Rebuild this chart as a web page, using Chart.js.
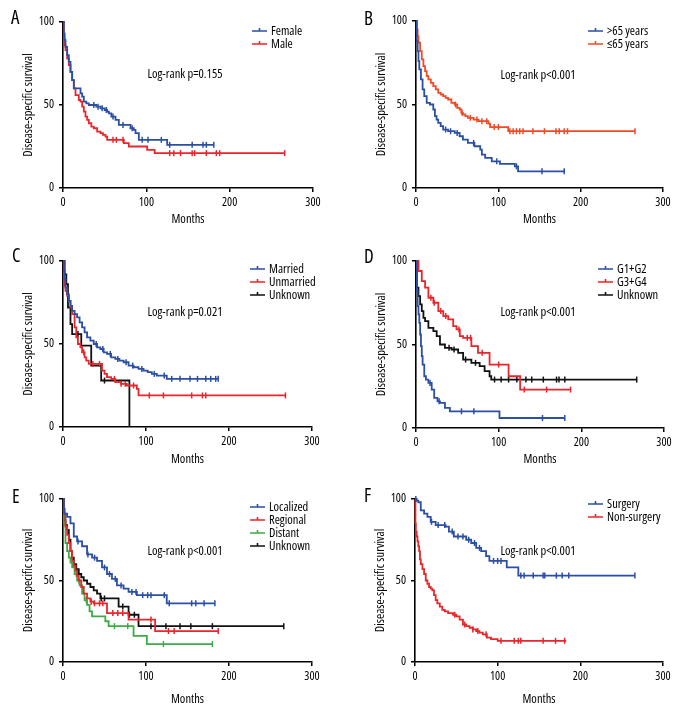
<!DOCTYPE html>
<html>
<head>
<meta charset="utf-8">
<script src="https://cdn.jsdelivr.net/npm/chart.js@4"></script>
<style>
  body { margin: 0; background: #fff; }
  #fig { position: relative; width: 696px; height: 720px; }
  #fig canvas { position: absolute; }
</style>
</head>
<body>
<div id="fig">
  <canvas id="panelA" width="348" height="230" style="left:0;top:0"></canvas>
  <canvas id="panelB" width="348" height="230" style="left:348px;top:0"></canvas>
  <canvas id="panelC" width="348" height="240" style="left:0;top:230px"></canvas>
  <canvas id="panelD" width="348" height="240" style="left:348px;top:230px"></canvas>
  <canvas id="panelE" width="348" height="250" style="left:0;top:460px"></canvas>
  <canvas id="panelF" width="348" height="250" style="left:348px;top:460px"></canvas>
</div>
<script>
// axis ticks
const monthTicks = [0, 100, 200, 300];
const survTicks = [0, 50, 100];

// A: sex
const aFemaleMonths = [0, 1, 2, 3, 5, 7, 9, 11, 13, 21, 23, 25, 28, 31, 40, 45, 50, 53, 55, 58, 63, 67, 81, 85, 87, 91, 125, 181];
const aFemaleSurv   = [100, 93, 89, 85, 80, 76, 70, 65, 60, 57, 55, 52, 51, 50, 49, 48, 47, 46, 45, 43, 41, 38, 36, 35, 33, 29, 26, 26];
const aFemaleCens   = [37, 42, 47, 52, 60, 72, 83, 95, 102, 118, 128, 155, 168, 172, 181];
const aMaleMonths = [0, 1, 2, 3, 5, 7, 9, 11, 13, 15, 19, 21, 23, 25, 27, 29, 31, 34, 37, 41, 45, 48, 51, 53, 73, 79, 101, 110, 266];
const aMaleSurv   = [100, 90, 86, 83, 78, 74, 70, 65, 60, 56, 53, 52, 49, 46, 43, 41, 39, 37, 36, 34, 33, 32, 31, 29, 27, 25, 23, 21, 21];
const aMaleCens   = [60, 64, 72, 128, 133, 141, 155, 158, 172, 184, 188, 266];

// B: age
const bOldMonths = [0, 1, 2, 3, 4, 6, 8, 10, 13, 17, 21, 23, 25, 27, 30, 33, 39, 47, 53, 57, 63, 71, 78, 80, 84, 92, 102, 120, 124, 181];
const bOldSurv   = [100, 88, 82, 76, 71, 65, 59, 55, 51, 50, 47, 43, 41, 39, 37, 35, 34, 33, 31, 29, 27, 25, 23, 20, 18, 16, 14.5, 13, 10, 10];
const bOldCens   = [36, 42, 50, 70, 98, 122, 153, 180];
const bYoungMonths = [0, 1, 2, 3, 5, 7, 9, 11, 13, 15, 18, 21, 24, 27, 30, 33, 36, 39, 43, 47, 50, 53, 55, 57, 60, 63, 70, 76, 88, 90, 112, 266];
const bYoungSurv   = [100, 95, 91, 87, 82, 77, 73, 70, 67, 65, 63, 61, 59, 57, 56, 55, 54, 53, 51, 50, 48, 47, 45, 44, 43, 42, 41, 40, 38.5, 36.5, 34, 34];
const bYoungCens   = [48, 56, 66, 74, 80, 86, 95, 100, 114, 118, 122, 126, 130, 142, 156, 170, 174, 180, 184, 266];

// C: marital status
const cMarriedMonths = [0, 1, 2, 3, 5, 7, 9, 11, 14, 17, 20, 23, 26, 29, 33, 37, 41, 45, 49, 53, 58, 63, 68, 73, 79, 85, 91, 97, 102, 107, 113, 125, 187];
const cMarriedSurv   = [100, 94, 89, 84, 80, 76, 73, 70, 68, 66, 63, 60, 57, 54, 52, 50, 48, 47, 45, 44, 42, 41, 40, 39, 37, 36, 35, 34, 33, 32, 31, 29, 29];
const cMarriedCens   = [40, 48, 57, 66, 76, 84, 95, 110, 122, 131, 141, 153, 162, 172, 178, 184, 187];
const cUnmarriedMonths = [0, 1, 2, 3, 5, 7, 9, 11, 14, 16, 18, 21, 23, 26, 28, 31, 47, 50, 53, 58, 63, 70, 77, 89, 91, 268];
const cUnmarriedSurv   = [100, 90, 85, 82, 79, 76, 72, 68, 60, 54, 50, 48, 45, 42, 40, 38, 34, 32, 30, 29, 27, 26, 25, 23, 19, 19];
const cUnmarriedCens   = [25, 36, 44, 62, 70, 75, 85, 104, 121, 155, 168, 172, 268];
const cUnknownMonths = [0, 2, 4, 6, 9, 11, 22, 34, 46, 80];
const cUnknownSurv   = [100, 92, 86, 72, 62, 56, 49, 37, 28, 0];
const cUnknownCens   = [18, 50];

// D: grade
const dLowMonths = [0, 1, 2, 3, 4, 5, 6, 7, 8, 10, 12, 15, 19, 22, 26, 29, 35, 41, 101, 180];
const dLowSurv   = [100, 82, 73, 68, 63, 56, 49, 43, 38, 31, 29, 27, 23, 18, 16, 15, 12, 10, 6, 6];
const dLowCens   = [17, 28, 55, 70, 153, 180];
const dHighMonths = [0, 3, 7, 11, 15, 21, 27, 33, 39, 45, 49, 53, 57, 67, 75, 89, 112, 126, 187];
const dHighSurv   = [100, 94, 88, 84, 78, 75, 70, 67, 65, 61, 59, 55, 54, 49, 45, 38, 31, 23, 23];
const dHighCens   = [18, 22, 30, 36, 52, 62, 66, 80, 100, 131, 158, 187];
const dUnknownMonths = [0, 1, 3, 5, 7, 9, 11, 15, 21, 25, 29, 35, 43, 51, 57, 67, 77, 83, 89, 91, 267];
const dUnknownSurv   = [100, 84, 79, 74, 70, 66, 64, 60, 58, 55, 50, 48, 47, 45, 41, 39, 37, 34, 31, 29, 29];
const dUnknownCens   = [40, 46, 60, 72, 95, 103, 112, 122, 133, 140, 154, 170, 173, 180, 267];

// E: stage
const eLocalMonths = [0, 1, 2, 5, 9, 13, 17, 23, 29, 35, 41, 47, 53, 59, 65, 73, 79, 89, 125, 183];
const eLocalSurv   = [100, 94, 91, 89, 85, 77, 74, 71, 66, 64, 62, 58, 54, 51, 47, 45, 43, 41, 36, 36];
const eLocalCens   = [18, 30, 38, 50, 56, 63, 70, 83, 88, 96, 102, 106, 122, 128, 155, 160, 170, 183];
const eRegionalMonths = [0, 1, 3, 5, 7, 9, 11, 13, 15, 17, 19, 22, 25, 29, 33, 37, 53, 79, 111, 187];
const eRegionalSurv   = [100, 91, 83, 78, 73, 68, 62, 59, 56, 53, 50, 46, 42, 39, 37, 36, 30, 26, 19, 19];
const eRegionalCens   = [34, 38, 44, 48, 60, 66, 72, 106, 127, 134, 187];
const eDistantMonths = [0, 1, 3, 5, 7, 9, 11, 14, 17, 20, 23, 26, 29, 32, 35, 51, 55, 85, 101, 180];
const eDistantSurv   = [100, 85, 73, 68, 64, 61, 58, 54, 50, 47, 42, 38, 35, 31, 28, 25, 22, 16, 11, 11];
const eDistantCens   = [16, 19, 28, 62, 78, 121, 180];
const eUnknownMonths = [0, 1, 3, 5, 7, 9, 11, 13, 16, 19, 22, 25, 29, 33, 37, 41, 45, 67, 79, 91, 266];
const eUnknownSurv   = [100, 87, 84, 81, 75, 68, 64, 60, 57, 54, 52, 50, 48, 46, 44, 42, 39, 34, 29, 22, 22];
const eUnknownCens   = [46, 50, 72, 80, 86, 106, 124, 141, 154, 180, 266];

// F: surgery
const fSurgeryMonths = [0, 2, 4, 7, 11, 15, 19, 25, 37, 41, 47, 62, 68, 74, 80, 86, 90, 111, 125, 266];
const fSurgerySurv   = [100, 99, 98, 93, 91, 89, 86, 84, 83, 80, 77, 75, 73, 70, 68, 65, 62, 58, 53, 53];
const fSurgeryCens   = [1, 20, 28, 36, 45, 52, 58, 65, 72, 78, 95, 100, 104, 128, 132, 143, 155, 157, 171, 178, 186, 266];
const fNonMonths = [0, 0.5, 1, 2, 3, 4, 5, 6, 7, 9, 11, 13, 15, 17, 19, 21, 23, 25, 27, 30, 33, 36, 40, 46, 50, 54, 58, 62, 66, 70, 74, 78, 82, 87, 92, 100, 183];
const fNonSurv   = [100, 85, 80, 77, 74, 71, 68, 63, 60, 57, 54, 50, 48, 46, 45, 44, 41, 38, 36, 34, 32, 31, 30, 29, 28, 26, 23, 22, 21, 20, 19, 18, 17, 15, 14, 13, 13];
const fNonCens   = [48, 60, 70, 76, 86, 104, 120, 125, 128, 155, 170, 181];

const BLUE = '#2b4fa3', RED = '#e8262b', ORANGE = '#ef4b25', GREEN = '#3dab45', BLACK = '#111';
// Open Sans squeezed with font-stretch looks close to the condensed face of the original
const FAMILY = '"Open Sans", "Roboto Condensed", sans-serif';
const cond = size => 'condensed ' + size + 'px ' + FAMILY;

function survAt(months, surv, m) {
  let v = surv[0];
  for (let i = 0; i < months.length; i++) if (months[i] <= m) v = surv[i];
  return v;
}

function curve(label, color, months, surv, cens) {
  return [
    {
      label, borderColor: color, backgroundColor: color, borderWidth: 1.8,
      data: months.map((m, i) => ({ x: m, y: surv[i] })),
      stepped: 'before', pointRadius: 0, clip: false, km: true
    },
    {
      label: label + ' censored', borderColor: color, backgroundColor: color,
      data: cens.map(m => ({ x: m, y: survAt(months, surv, m) })),
      showLine: false, pointStyle: 'line', rotation: 90, pointRadius: 3,
      pointBorderWidth: 1.5, clip: false
    }
  ];
}

const kmDecor = {
  id: 'kmDecor',
  afterDraw(chart, args, o) {
    const ctx = chart.ctx;
    ctx.save();
    ctx.fillStyle = '#000';
    ctx.textBaseline = 'middle';
    ctx.font = cond(19);
    ctx.textAlign = 'left';
    ctx.fillText(o.letter, o.letterX, o.letterY);
    ctx.font = cond(12.5);
    ctx.textAlign = 'center';
    ctx.fillText(o.pText, o.pX, o.pY);
    ctx.textAlign = 'left';
    chart.data.datasets.filter(d => d.km).forEach((d, i) => {
      const y = o.legY + i * 13;
      ctx.strokeStyle = d.borderColor;
      ctx.lineWidth = 1.6;
      ctx.beginPath();
      ctx.moveTo(o.legX, y); ctx.lineTo(o.legX + 15, y);
      ctx.moveTo(o.legX + 7.5, y); ctx.lineTo(o.legX + 7.5, y - 3);
      ctx.stroke();
      ctx.fillStyle = '#000';
      ctx.fillText(d.label, o.legX + 19, y);
    });
    ctx.restore();
  }
};

const panels = [
  { id: 'panelA', letter: 'A', p: 'Log-rank p=0.155', ca: [63, 22, 313, 188], letterPos: [11, 19], pPos: [185, 74], legPos: [252, 31],
    curves: [curve('Female', BLUE, aFemaleMonths, aFemaleSurv, aFemaleCens), curve('Male', RED, aMaleMonths, aMaleSurv, aMaleCens)] },
  { id: 'panelB', letter: 'B', p: 'Log-rank p<0.001', ca: [68, 21, 315, 188], letterPos: [16, 20], pPos: [190, 75], legPos: [240, 31],
    curves: [curve('>65 years', BLUE, bOldMonths, bOldSurv, bOldCens), curve('\u226465 years', ORANGE, bYoungMonths, bYoungSurv, bYoungCens)] },
  { id: 'panelC', letter: 'C', p: 'Log-rank p=0.021', ca: [63, 31, 312, 197], letterPos: [12, 27], pPos: [185, 82], legPos: [250, 39],
    curves: [curve('Married', BLUE, cMarriedMonths, cMarriedSurv, cMarriedCens), curve('Unmarried', RED, cUnmarriedMonths, cUnmarriedSurv, cUnmarriedCens), curve('Unknown', BLACK, cUnknownMonths, cUnknownSurv, cUnknownCens)] },
  { id: 'panelD', letter: 'D', p: 'Log-rank p<0.001', ca: [68, 31, 316, 198], letterPos: [16, 28], pPos: [190, 82], legPos: [250, 39],
    curves: [curve('G1+G2', BLUE, dLowMonths, dLowSurv, dLowCens), curve('G3+G4', RED, dHighMonths, dHighSurv, dHighCens), curve('Unknown', BLACK, dUnknownMonths, dUnknownSurv, dUnknownCens)] },
  { id: 'panelE', letter: 'E', p: 'Log-rank p<0.001', ca: [63, 39, 312, 202], letterPos: [12, 38], pPos: [185, 91], legPos: [250, 47],
    curves: [curve('Localized', BLUE, eLocalMonths, eLocalSurv, eLocalCens), curve('Regional', RED, eRegionalMonths, eRegionalSurv, eRegionalCens), curve('Distant', GREEN, eDistantMonths, eDistantSurv, eDistantCens), curve('Unknown', BLACK, eUnknownMonths, eUnknownSurv, eUnknownCens)] },
  { id: 'panelF', letter: 'F', p: 'Log-rank p<0.001', ca: [67, 39, 315, 202], letterPos: [16, 37], pPos: [190, 91], legPos: [240, 44],
    curves: [curve('Surgery', BLUE, fSurgeryMonths, fSurgerySurv, fSurgeryCens), curve('Non-surgery', RED, fNonMonths, fNonSurv, fNonCens)] }
];

panels.forEach(p => {
  const canvas = document.getElementById(p.id);
  const W = canvas.width, H = canvas.height;
  const [left, top, right, bottom] = p.ca;
  const yWidth = 46;
  // weight slot carries the font-stretch keyword into Chart.js' font string
  const axisFont = { family: FAMILY, size: 12, weight: 'condensed' };
  new Chart(canvas, {
    type: 'line',
    data: { datasets: p.curves.flat() },
    plugins: [kmDecor],
    options: {
      responsive: false,
      animation: false,
      events: [],
      layout: { padding: { left: left - yWidth, top: top, right: W - right, bottom: 0 } },
      plugins: {
        legend: { display: false },
        tooltip: { enabled: false },
        kmDecor: { letter: p.letter, letterX: p.letterPos[0], letterY: p.letterPos[1], pText: p.p, pX: p.pPos[0], pY: p.pPos[1], legX: p.legPos[0], legY: p.legPos[1] }
      },
      scales: {
        x: {
          type: 'linear', min: monthTicks[0], max: monthTicks[monthTicks.length - 1],
          afterBuildTicks: s => { s.ticks = monthTicks.map(v => ({ value: v })); },
          ticks: { color: '#000', font: axisFont, padding: 3, maxRotation: 0, autoSkip: false },
          grid: { drawOnChartArea: false, color: '#000', tickLength: 4, lineWidth: 1.5 },
          border: { color: '#000', width: 1.6 },
          title: { display: true, text: 'Months', color: '#000', font: { family: FAMILY, size: 12.5, weight: 'condensed' }, padding: { top: 0, bottom: 3 } },
          afterFit: s => { s.height = H - bottom; }
        },
        y: {
          min: survTicks[0], max: survTicks[survTicks.length - 1],
          afterBuildTicks: s => { s.ticks = survTicks.map(v => ({ value: v })); },
          ticks: { color: '#000', font: axisFont, padding: 5 },
          grid: { drawOnChartArea: false, color: '#000', tickLength: 4, lineWidth: 1.5 },
          border: { color: '#000', width: 1.6 },
          title: { display: true, text: 'Disease-specific survival', color: '#000', font: { family: FAMILY, size: 12.5, weight: 'condensed' }, padding: { top: 4, bottom: 0 } },
          afterFit: s => { s.width = yWidth; }
        }
      }
    }
  });
});
</script>
</body>
</html>
